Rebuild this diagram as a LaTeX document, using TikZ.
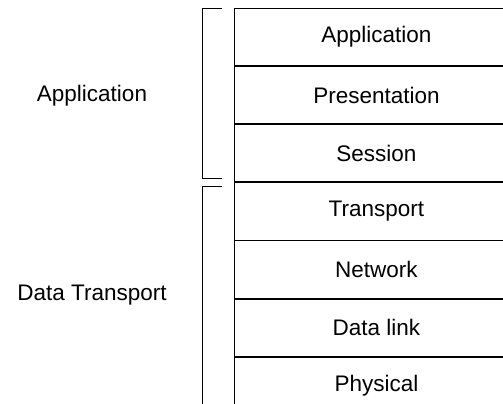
\documentclass[tikz,border=0pt]{standalone}
\usepackage{fontspec}
\setmainfont{Liberation Sans}
\usetikzlibrary{positioning}

\tikzset{
  layer/.style={draw, minimum width=284pt, minimum height=57.2pt, inner sep=0pt},
  group/.style={inner sep=0pt}
}

\begin{document}
\begin{tikzpicture}[x=1pt, y=-1pt, line width=0.9pt,
    font=\fontsize{22.5}{27}\selectfont]
    \useasboundingbox (0,0) rectangle (503,404);
    \clip (0,0) rectangle (503,404);
    % the seven layers
    \node [layer, anchor=north west] (app) at (234,8) {Application};
    \node [layer, below=0pt of app] (pres) {Presentation};
    \node [layer, below=0pt of pres] (sess) {Session};
    \node [layer, below=0pt of sess] (trans) {Transport};
    \node [layer, below=0pt of trans] (net) {Network};
    \node [layer, below=0pt of net] (link) {Data link};
    \node [layer, below=0pt of link] (phys) {Physical};
    \draw [line width=1.8pt] (link.south west) -- (link.south east);
    % brackets
    \draw ([xshift=-12pt]app.north west) -- ([xshift=-32pt]app.north west)
      -- ([xshift=-32pt,yshift=4pt]sess.south west) -- ([xshift=-12pt,yshift=4pt]sess.south west);
    \draw ([xshift=-12pt,yshift=-4pt]trans.north west) -- ([xshift=-32pt,yshift=-4pt]trans.north west)
      -- ([xshift=-32pt,yshift=-20pt]phys.south west);
    \node [group] (grpapp) at (92,96) {Application};
    \node [group] (grpdata) at (92,295) {Data Transport};
  \end{tikzpicture}
\end{document}
